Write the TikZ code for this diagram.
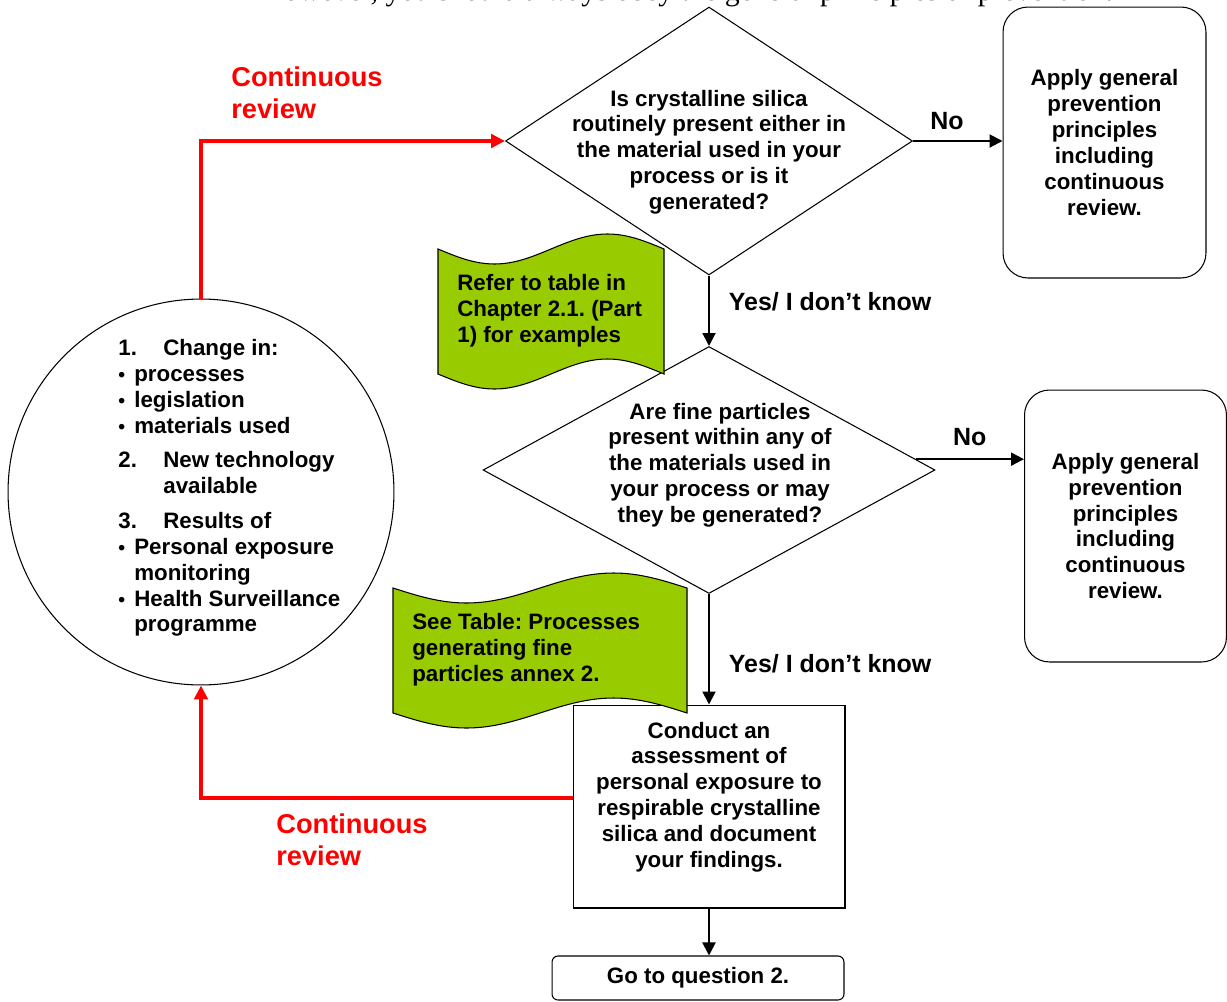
\documentclass[tikz,border=0pt]{standalone}
\usepackage{fontspec}
\setmainfont{Liberation Sans}
\newfontfamily\headserif{Liberation Serif}
\usepackage{xcolor}
\usepackage{tikz}
\usetikzlibrary{shapes.geometric, arrows.meta, positioning, calc}
\frenchspacing

\definecolor{notegreen}{RGB}{153,204,0}
\definecolor{revred}{RGB}{255,0,0}
\newcommand{\flowfont}{\fontsize{12.7pt}{14.7pt}\selectfont\bfseries}
\newcommand{\edgefont}{\fontsize{14.2pt}{16.4pt}\selectfont\bfseries}
\newcommand{\revfont}{\fontsize{15.5pt}{18.1pt}\selectfont\bfseries}
\newcommand{\smallbullet}{\makebox[0.32cm][l]{\fontsize{11pt}{11pt}\selectfont\textbullet}}
\newcommand{\numitem}[1]{\makebox[0.9cm][l]{#1}}

\tikzstyle{decision} = [diamond, draw=black, line width=0.6pt, fill=white, inner sep=0pt]
\tikzstyle{qtext} = [align=center, inner sep=0pt, font=\flowfont]
\tikzstyle{action} = [rectangle, rounded corners=0.5cm, draw=black, line width=0.6pt, fill=white, align=center, inner sep=0pt, font=\flowfont]
\tikzstyle{process} = [rectangle, draw=black, line width=0.6pt, fill=white, minimum width=5.44cm, minimum height=4.06cm]
\tikzstyle{arrow} = [line width=1.1pt, -{Triangle[length=0.26cm, width=0.26cm]}]
\tikzstyle{revarrow} = [line width=2pt, revred, -{Triangle[length=0.28cm, width=0.27cm]}]
\tikzstyle{lbl} = [font=\flowfont, inner sep=0pt]
\tikzstyle{edgelbl} = [font=\edgefont, inner sep=0pt]
\tikzstyle{revlbl} = [font=\revfont, text=revred, align=left, inner sep=0pt]
\tikzstyle{note} = [draw=black, line width=0.6pt, fill=notegreen]

% wavy note: left, top, width, height
\newcommand{\notewave}[4]{%
  \filldraw[note] (#1,#2) sin ++(#3/4,15) cos ++(#3/4,-15) sin ++(#3/4,-15) cos ++(#3/4,15)
    -- ++(0,#4) sin ++(-#3/4,-15) cos ++(-#3/4,15) sin ++(-#3/4,15) cos ++(-#3/4,-15) -- cycle;}

\begin{document}
\begin{tikzpicture}[x=0.02cm, y=-0.02cm]
    \useasboundingbox (0,0) rectangle (1227,1001);

    % Page text cut off above
    \node[anchor=base west, inner sep=0pt, font=\fontsize{17pt}{20pt}\selectfont\headserif] (header) at (262,0.8)
        {However, you should always obey the general principles of prevention.};

    % Questions
    \node[decision, minimum width=8.14cm, minimum height=5.36cm] (q1) at (709,141) {};
    \node[qtext] (q1text) at (709,152) {Is crystalline silica\\routinely present either in\\the material used in your\\process or is it\\generated?};
    \node[decision, minimum width=9.04cm, minimum height=4.94cm] (q2) at (709,470) {};
    \node[qtext] (q2text) at (720,465) {Are fine particles\\present within any of\\the materials used in\\your process or may\\they be generated?};

    % Outcomes
    \node[action, minimum width=4.06cm, minimum height=5.42cm] (act1) at (1104.5,142.5) {Apply general\\prevention\\principles\\including\\continuous\\review.};
    \node[action, minimum width=4.04cm, minimum height=5.44cm] (act2) at (1125.5,526) {Apply general\\prevention\\principles\\including\\continuous\\review.};
    \node[process] (assess) at (709,806.5) {};
    \node[qtext] (assesstext) at (709,797) {Conduct an\\assessment of\\personal exposure to\\respirable crystalline\\silica and document\\your findings.};
    \node[action, rounded corners=0.12cm, minimum width=5.84cm, minimum height=0.88cm] (goto) at (698,978) {Go to question 2.};

    % Triggers for review
    \node[circle, draw=black, line width=0.6pt, minimum size=7.72cm, inner sep=0pt] (circ) at (201,492) {};
    \node[lbl, align=left, anchor=west] (circtext) at (118,488) {%
        \numitem{1.}Change in:\\
        \smallbullet processes\\
        \smallbullet legislation\\
        \smallbullet materials used\\[0.18cm]
        \numitem{2.}New technology\\
        \hspace*{0.9cm}available\\[0.18cm]
        \numitem{3.}Results of\\
        \smallbullet Personal exposure\\
        \hspace*{0.32cm}monitoring\\
        \smallbullet Health Surveillance\\
        \hspace*{0.32cm}programme};

    % Flow arrows
    \draw[arrow] (q1.east) -- node[edgelbl, pos=0.38, above=0.2cm] {No} (q1.east -| act1.west);
    \draw[arrow] (q1.south) -- node[edgelbl, pos=0.375, right=0.38cm] {Yes/ I don't know} (q2.north);
    \draw[arrow] (q2.3) -- node[edgelbl, pos=0.5, above=0.24cm] {No} (q2.3 -| act2.west);
    \draw[arrow] (q2.south) -- node[edgelbl, pos=0.63, right=0.38cm] {Yes/ I don't know} (assess.north);
    \draw[arrow] (assess.south) -- (assess.south |- goto.north);

    % Continuous review loops
    \draw[revarrow] (circ.north) |- (q1.west);
    \draw[revarrow] ([yshift=0.17cm]assess.west) -| (circ.south);
    \node[revlbl, anchor=west] (rev1) at (231,93) {Continuous\\review};
    \node[revlbl, anchor=west] (rev2) at (276,840) {Continuous\\review};

    % Green notes
    \notewave{438}{249}{226}{125}
    \node[lbl, align=left, anchor=west] (note1) at (457,311) {Refer to table in\\Chapter 2.1. (Part\\1) for examples};
    \notewave{393}{588}{294}{125}
    \node[lbl, align=left, anchor=west] (note2) at (412,650) {See Table: Processes\\generating fine\\particles annex 2.};

\end{tikzpicture}
\end{document}
